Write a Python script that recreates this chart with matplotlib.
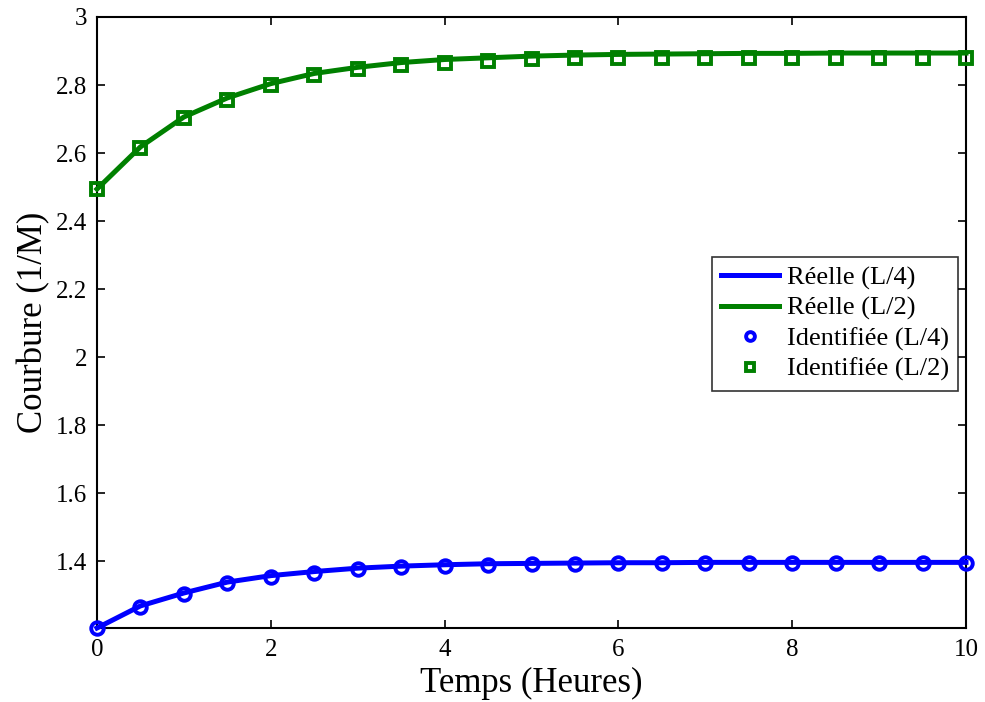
import matplotlib
matplotlib.use("Agg")
import matplotlib.pyplot as plt
import numpy as np

plt.rcParams['font.family'] = ['Liberation Serif', 'DejaVu Serif']

t = [0, 0.5, 1, 1.5, 2, 2.5, 3, 3.5, 4, 4.5, 5, 5.5, 6, 6.5, 7, 7.5, 8, 8.5, 9, 9.5, 10]

reel_L4 = [1.203, 1.268, 1.306, 1.338, 1.357, 1.369, 1.379, 1.385, 1.389, 1.392, 1.393,
           1.394, 1.395, 1.395, 1.396, 1.396, 1.396, 1.396, 1.396, 1.396, 1.396]
reel_L2 = [2.494, 2.618, 2.706, 2.762, 2.804, 2.834, 2.852, 2.866, 2.875, 2.880, 2.885,
           2.888, 2.890, 2.891, 2.892, 2.893, 2.893, 2.894, 2.894, 2.894, 2.894]
ident_L4 = [1.203, 1.265, 1.303, 1.334, 1.354, 1.366, 1.376, 1.382, 1.386, 1.389, 1.391,
            1.392, 1.393, 1.393, 1.394, 1.394, 1.394, 1.394, 1.394, 1.394, 1.394]
ident_L2 = [2.494, 2.615, 2.703, 2.757, 2.800, 2.829, 2.847, 2.859, 2.866, 2.871, 2.876,
            2.878, 2.879, 2.880, 2.880, 2.880, 2.880, 2.880, 2.880, 2.880, 2.880]

xticks = [0, 2, 4, 6, 8, 10]
yticks = [1.4, 1.6, 1.8, 2.0, 2.2, 2.4, 2.6, 2.8, 3.0]
yticklabels = ['1.4', '1.6', '1.8', '2', '2.2', '2.4', '2.6', '2.8', '3']

fig = plt.figure(figsize=(9.85, 7.02), dpi=100)
ax = fig.add_axes([97/985, 1 - 628/702, 869/985, 611/702])

blue = '#0000ff'
green = '#008000'
ax.plot(t, reel_L4, color=blue, lw=3.6, label='Réelle (L/4)', clip_on=False, zorder=3)
ax.plot(t, reel_L2, color=green, lw=3.6, label='Réelle (L/2)', clip_on=False, zorder=3)
ax.plot(t, ident_L4, ls='none', marker='o', ms=9, mfc='none', mec=blue, mew=2.8,
        label='Identifiée (L/4)', clip_on=False, zorder=4)
ax.plot(t, ident_L2, ls='none', marker='s', ms=9, mfc='none', mec=green, mew=2.8,
        label='Identifiée (L/2)', clip_on=False, zorder=4)

ax.set_xlim(0, 10)
ax.set_ylim(1.203, 3.0)
ax.set_xticks(xticks)
ax.set_xticklabels([str(v) for v in xticks])
ax.set_yticks(yticks)
ax.set_yticklabels(yticklabels)
ax.tick_params(direction='in', top=True, right=True, length=6, width=1.2,
               labelsize=18)
ax.tick_params(axis='x', pad=8)
ax.tick_params(axis='y', pad=7)
for s in ax.spines.values():
    s.set_linewidth(1.5)

ax.set_xlabel('Temps (Heures)', fontsize=25, labelpad=4)
ax.set_ylabel('Courbure (1/M)', fontsize=25, labelpad=4)

leg = ax.legend(loc='center right', bbox_to_anchor=(0.991, 0.498), fontsize=19,
                frameon=True, fancybox=False, edgecolor='black', markerscale=0.7,
                handlelength=2.2, handletextpad=0.3, borderpad=0.35, labelspacing=0.25,
                borderaxespad=0)
leg.get_frame().set_linewidth(1.2)

fig.savefig('out.png', dpi=100)
